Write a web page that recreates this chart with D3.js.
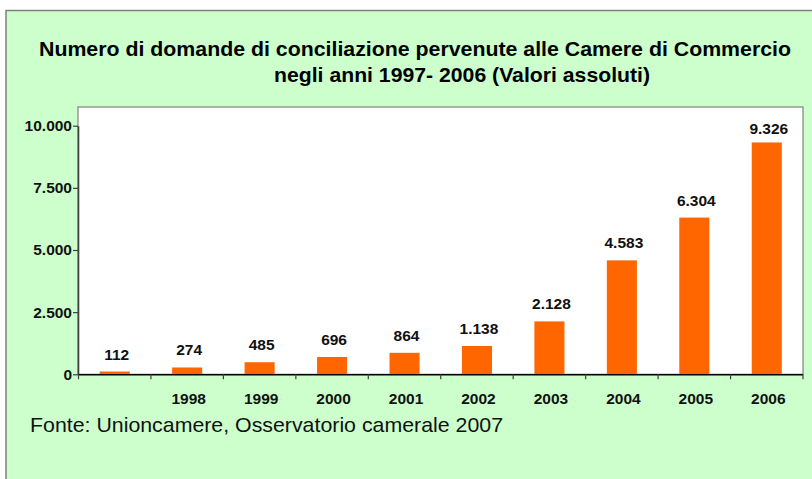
<!DOCTYPE html>
<html>
<head>
<meta charset="utf-8">
<script src="https://cdn.jsdelivr.net/npm/d3@7"></script>
<style>
  html, body { margin: 0; padding: 0; background: #fff; }
  svg { display: block; font-family: "Liberation Sans", Arial, sans-serif; }
</style>
</head>
<body>
<svg id="chart" width="812" height="479"></svg>
<script>
// Domande di conciliazione pervenute alle Camere di Commercio, 1997-2006
const years = ["1997", "1998", "1999", "2000", "2001", "2002", "2003", "2004", "2005", "2006"];
const xTickLabels = ["", "1998", "1999", "2000", "2001", "2002", "2003", "2004", "2005", "2006"];
const domande = [112, 274, 485, 696, 864, 1138, 2128, 4583, 6304, 9326];
const yTicks = [0, 2500, 5000, 7500, 10000];
const titleLines = [
  "Numero di domande di conciliazione pervenute alle Camere di Commercio",
  "negli anni 1997- 2006 (Valori assoluti)"
];
const sourceNote = "Fonte: Unioncamere, Osservatorio camerale 2007";

const svg = d3.select("#chart");
const itLocale = d3.formatLocale({ decimal: ",", thousands: ".", grouping: [3], currency: ["€", ""] });
const fmt = itLocale.format(",d");

// outer panel
svg.append("rect")
  .attr("x", 6).attr("y", 10.5).attr("width", 900).attr("height", 600)
  .attr("fill", "#ccffcc").attr("stroke", "#808080").attr("stroke-width", 1.5);

// title
const titleX = [415, 462];
const titleLen = [752, 376];
svg.selectAll("text.title").data(titleLines).join("text")
  .attr("class", "title")
  .attr("x", (d, i) => titleX[i])
  .attr("y", (d, i) => 56 + i * 26)
  .attr("text-anchor", "middle")
  .attr("font-size", 21).attr("font-weight", "bold").attr("fill", "#000")
  .attr("textLength", (d, i) => titleLen[i])
  .attr("lengthAdjust", "spacingAndGlyphs")
  .text(d => d);

// plot area
const plotLeft = 78, plotRight = 802.5, plotTop = 107;
const y = d3.scaleLinear().domain([0, 10000]).range([374.3, 125.7]);
const x = d3.scaleBand().domain(years).range([plotLeft, plotRight]).padding(0);
const slot = d3.scaleLinear().domain([0, years.length]).range([plotLeft, plotRight]);

svg.append("rect")
  .attr("x", plotLeft).attr("y", plotTop)
  .attr("width", plotRight - plotLeft + 0.5).attr("height", y(0) - plotTop)
  .attr("fill", "#fff").attr("stroke", "#808080").attr("stroke-width", 1.2);

// bars
const barW = x.bandwidth() * 0.415;
svg.append("g").selectAll("rect").data(domande).join("rect")
  .attr("x", (d, i) => x(years[i]) + (x.bandwidth() - barW) / 2 + 0.5)
  .attr("y", d => y(d))
  .attr("width", barW)
  .attr("height", d => y(0) - y(d))
  .attr("fill", "#ff6600");

// value labels
svg.append("g").selectAll("text").data(domande).join("text")
  .attr("x", (d, i) => x(years[i]) + x.bandwidth() / 2 + 2.5)
  .attr("y", d => Math.max(y(d) - 12, y(10000) + 8.5))
  .attr("text-anchor", "middle")
  .attr("font-size", 15.5).attr("font-weight", "bold").attr("fill", "#111")
  .text(d => fmt(d));

// y axis
const yAxis = svg.append("g")
  .attr("transform", `translate(${plotLeft},0)`)
  .call(d3.axisLeft(y).tickValues(yTicks).tickFormat(fmt).tickSize(5).tickSizeOuter(0).tickPadding(1));
yAxis.select(".domain").attr("stroke", "#404040").attr("stroke-width", 1.6);
yAxis.selectAll(".tick line").attr("stroke", "#404040").attr("stroke-width", 1.2);
yAxis.selectAll(".tick text")
  .attr("font-size", 15.5).attr("font-weight", "bold").attr("fill", "#111")
  .attr("font-family", "'Liberation Sans', Arial, sans-serif");

// x axis: boundary ticks
const xTicksAxis = svg.append("g")
  .attr("transform", `translate(0,${y(0)})`)
  .call(d3.axisBottom(slot).ticks(years.length).tickFormat("").tickSize(5).tickSizeOuter(0));
xTicksAxis.select(".domain").attr("stroke", "#000").attr("stroke-width", 1.6);
xTicksAxis.selectAll(".tick line").attr("stroke", "#404040").attr("stroke-width", 1.2);

// x axis: year labels
const xLabels = svg.append("g")
  .attr("transform", `translate(2,${y(0)})`)
  .call(d3.axisBottom(x).tickSize(0).tickPadding(19).tickFormat((d, i) => xTickLabels[i]));
xLabels.select(".domain").remove();
xLabels.selectAll(".tick text")
  .attr("font-size", 15.5).attr("font-weight", "bold").attr("fill", "#111")
  .attr("font-family", "'Liberation Sans', Arial, sans-serif");

// source note
svg.append("text")
  .attr("x", 30).attr("y", 432)
  .attr("font-size", 21).attr("fill", "#111")
  .attr("textLength", 473).attr("lengthAdjust", "spacingAndGlyphs")
  .text(sourceNote);
</script>
</body>
</html>
